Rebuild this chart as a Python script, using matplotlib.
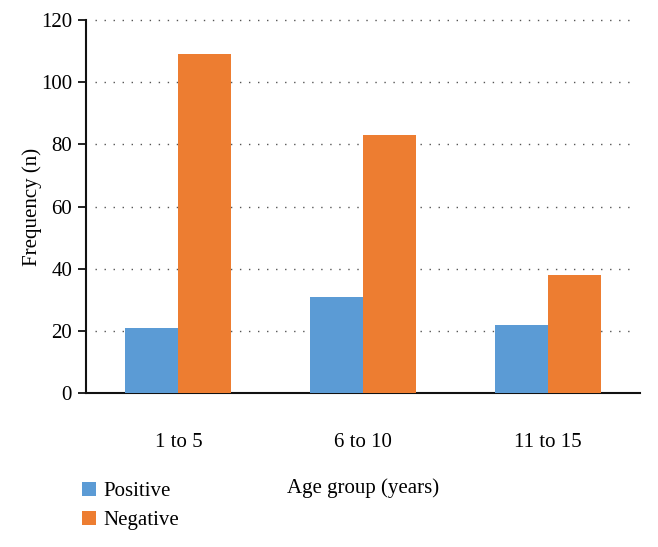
import matplotlib
matplotlib.use("Agg")
import matplotlib.pyplot as plt
import numpy as np

categories = ["1 to 5", "6 to 10", "11 to 15"]
positive = [21, 31, 22]
negative = [109, 83, 38]
yticks = [0, 20, 40, 60, 80, 100, 120]

plt.rcParams['font.family'] = ['Liberation Serif', 'DejaVu Serif']

fig = plt.figure(figsize=(6.58, 5.47), dpi=100)
ax = fig.add_axes([86/658, 1-393/547, (640-86)/658, (393-20)/547])

x = np.arange(len(categories))
w = 0.287
b1 = ax.bar(x - w/2, positive, w, color="#5B9BD5", label="Positive", zorder=3)
b2 = ax.bar(x + w/2, negative, w, color="#ED7D31", label="Negative", zorder=3)

fs = 15
ax.set_xlim(-0.5, 2.5)
ax.set_ylim(0, 120)
ax.set_yticks(yticks)
ax.set_xticks(x)
ax.set_xticklabels(categories)
ax.tick_params(axis='x', length=0, pad=29, labelsize=fs)
ax.tick_params(axis='y', length=6, width=1.3, direction='out', labelsize=fs, pad=4, color='#111111')
for s in ['top', 'right']:
    ax.spines[s].set_visible(False)
ax.spines['left'].set_linewidth(1.5)
ax.spines['bottom'].set_linewidth(1.5)
ax.spines['left'].set_color('#111111')
ax.spines['bottom'].set_color('#111111')

for yv in yticks[1:]:
    ax.plot([-0.45, 2.48], [yv, yv], linestyle=(0, (1, 5.5)), color="#555555", linewidth=1.0, zorder=1, clip_on=False)

ax.set_ylabel("Frequency (n)", fontsize=fs, labelpad=-1)
ax.set_xlabel("Age group (years)", fontsize=fs, labelpad=19)

fig.legend(handles=[b1, b2], labels=["Positive", "Negative"], loc="upper left",
           bbox_to_anchor=(63/658, 1-463/547), frameon=False, fontsize=fs,
           handlelength=0.7, handleheight=0.7, handletextpad=0.35, labelspacing=0.45)

fig.savefig("out.png", dpi=100)
